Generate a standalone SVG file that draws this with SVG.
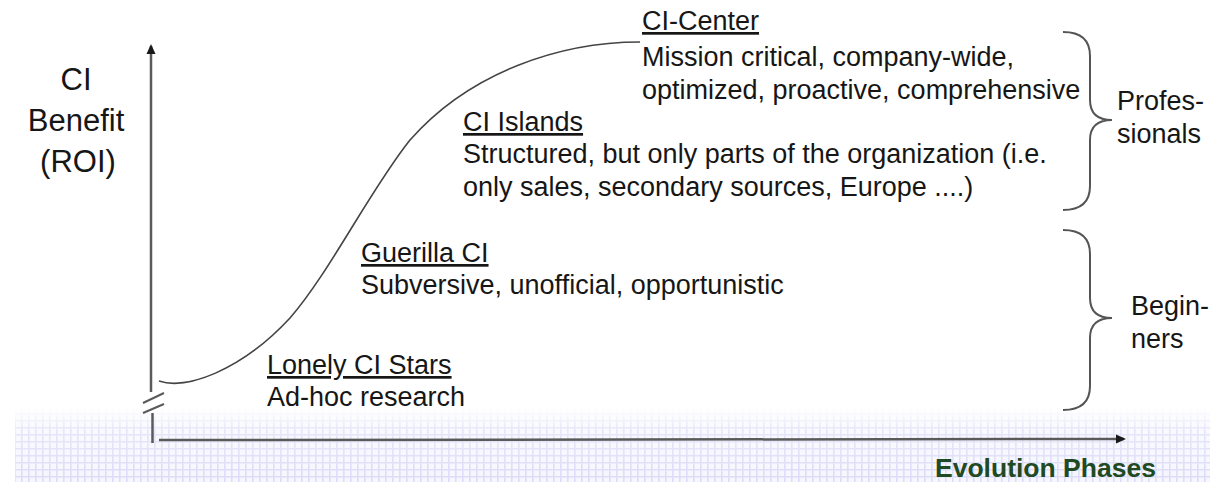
<svg xmlns="http://www.w3.org/2000/svg" width="1210" height="482" viewBox="0 0 1210 482">
<style>
.t{font-family:"Liberation Sans",Arial,sans-serif;font-size:27px;fill:#161616}
.h{text-decoration:underline}
.ax{font-family:"Liberation Sans",Arial,sans-serif;font-size:31px;fill:#161616;text-anchor:middle}
.ev{font-family:"Liberation Sans",Arial,sans-serif;font-size:26.5px;font-weight:bold;fill:#1f4a22}
.brace{fill:none;stroke:#555;stroke-width:2}
.axis{stroke:#5a5a5a;stroke-width:2.5;fill:none}
</style>
<defs>
<pattern id="grid" width="7" height="7" patternUnits="userSpaceOnUse">
<rect width="7" height="7" fill="#f6f6ff"/>
<path d="M0,0.8H7M0.8,0V7" stroke="#dcdcf8" stroke-width="1.6"/>
</pattern>
<linearGradient id="fade" x1="0" y1="0" x2="0" y2="1">
<stop offset="0" stop-color="#fff" stop-opacity="1"/>
<stop offset="0.3" stop-color="#fff" stop-opacity="0.3"/>
<stop offset="1" stop-color="#fff" stop-opacity="0"/>
</linearGradient>
<marker id="arr" markerWidth="10" markerHeight="10" refX="8" refY="5" orient="auto" markerUnits="userSpaceOnUse">
<path d="M0,0.5L10,5L0,9.5z" fill="#1a1a1a"/>
</marker>
</defs>
<rect width="1210" height="482" fill="#fff"/>
<g id="background">
<rect x="15" y="408" width="1195" height="74" fill="url(#grid)"/>
<rect x="15" y="408" width="1195" height="74" fill="url(#fade)"/>
</g>
<g id="connectors">
<path class="axis" d="M151,392L151,46" marker-end="url(#arr)"/>
<path class="axis" d="M152.5,413L152.5,443"/>
<path d="M143,403L164,393M143,413L164,404" stroke="#5a5a5a" stroke-width="2"/>
<path class="axis" d="M159,440L1124,439" marker-end="url(#arr)"/>
<path d="M159,381C185,390 240,372 290,318C330,272 370,190 410,140C470,72 560,42 640,42" fill="none" stroke="#444" stroke-width="1.6"/>
</g>
<g id="axis-label">
<text class="ax" x="76" y="90">CI</text>
<text class="ax" x="76" y="131">Benefit</text>
<text class="ax" x="78" y="172">(ROI)</text>
</g>
<g id="ci-center">
<text class="t h" x="642" y="30">CI-Center</text>
<text class="t" x="642" y="66">Mission critical, company-wide,</text>
<text class="t" x="642" y="99">optimized, proactive, comprehensive</text>
</g>
<g id="ci-islands">
<text class="t h" x="463" y="131">CI Islands</text>
<text class="t" x="463" y="163">Structured, but only parts of the organization (i.e.</text>
<text class="t" x="463" y="196">only sales, secondary sources, Europe ....)</text>
</g>
<g id="guerilla">
<text class="t h" x="361" y="262">Guerilla CI</text>
<text class="t" x="361" y="294">Subversive, unofficial, opportunistic</text>
</g>
<g id="lonely">
<text class="t h" x="267" y="374">Lonely CI Stars</text>
<text class="t" x="267" y="406">Ad-hoc research</text>
</g>
<g id="professionals">
<path class="brace" d="M1063,32Q1090,32 1090,56L1090,100Q1090,120 1112,120Q1090,120 1090,140L1090,186Q1090,210 1063,210"/>
<text class="t" x="1117" y="110">Profes-</text>
<text class="t" x="1117" y="143">sionals</text>
</g>
<g id="beginners">
<path class="brace" d="M1063,230Q1090,230 1090,254L1090,298Q1090,318 1112,318Q1090,318 1090,338L1090,386Q1090,410 1063,410"/>
<text class="t" x="1131" y="315">Begin-</text>
<text class="t" x="1131" y="348">ners</text>
</g>
<g id="x-label">
<text class="ev" x="935" y="477">Evolution Phases</text>
</g>
</svg>
